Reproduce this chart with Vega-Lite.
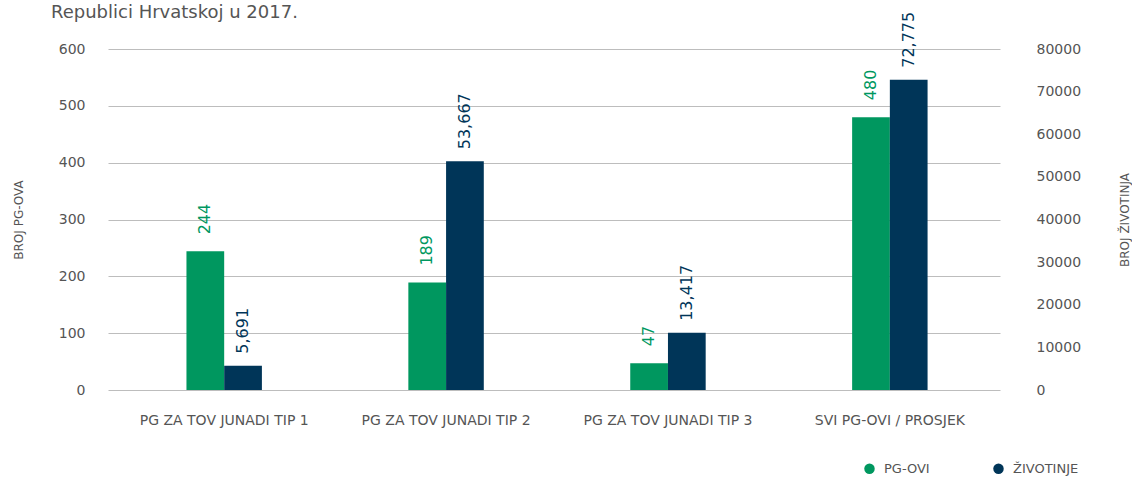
{
  "$schema": "https://vega.github.io/schema/vega-lite/v6.json",
  "width": 892,
  "height": 341,
  "autosize": "none",
  "padding": {"left": 108, "top": 49, "right": 132, "bottom": 87},
  "background": "white",
  "config": {
    "font": "DejaVu Sans",
    "view": {"stroke": null},
    "axis": {"labelColor": "#555555", "titleColor": "#555555", "labelFont": "DejaVu Sans", "titleFont": "DejaVu Sans"},
    "legend": {"labelFont": "DejaVu Sans"}
  },
  "title": {
    "text": "Republici Hrvatskoj u 2017.",
    "anchor": "start",
    "frame": "group",
    "font": "DejaVu Sans",
    "fontSize": 18,
    "fontWeight": "normal",
    "color": "#555555",
    "baseline": "alphabetic",
    "offset": 0,
    "dy": 24,
    "dx": -57
  },
  "data": {
    "values": [
      {"category": "PG ZA TOV JUNADI TIP 1", "series": "PG-OVI", "value": 244},
      {"category": "PG ZA TOV JUNADI TIP 1", "series": "ŽIVOTINJE", "value": 5691},
      {"category": "PG ZA TOV JUNADI TIP 2", "series": "PG-OVI", "value": 189},
      {"category": "PG ZA TOV JUNADI TIP 2", "series": "ŽIVOTINJE", "value": 53667},
      {"category": "PG ZA TOV JUNADI TIP 3", "series": "PG-OVI", "value": 47},
      {"category": "PG ZA TOV JUNADI TIP 3", "series": "ŽIVOTINJE", "value": 13417},
      {"category": "SVI PG-OVI / PROSJEK", "series": "PG-OVI", "value": 480},
      {"category": "SVI PG-OVI / PROSJEK", "series": "ŽIVOTINJE", "value": 72775}
    ]
  },
  "encoding": {
    "x": {
      "field": "category",
      "type": "nominal",
      "sort": null,
      "scale": {"paddingInner": 0.66, "paddingOuter": 0.34, "align": 0.52},
      "axis": {"title": null, "labelAngle": 0, "domain": false, "ticks": false, "labelPadding": 23, "labelFontSize": 14, "labelColor": "#555555"}
    },
    "xOffset": {"field": "series", "type": "nominal", "sort": ["PG-OVI", "ŽIVOTINJE"]},
    "color": {
      "field": "series",
      "type": "nominal",
      "scale": {"domain": ["PG-OVI", "ŽIVOTINJE"], "range": ["#00975f", "#003558"]},
      "legend": {
        "title": null,
        "orient": "none",
        "legendX": 755,
        "legendY": 413,
        "direction": "horizontal",
        "symbolType": "circle",
        "symbolSize": 110,
        "symbolStrokeWidth": 0,
        "labelFontSize": 13,
        "labelColor": "#555555",
        "labelOffset": 8,
        "columnPadding": 62
      }
    }
  },
  "layer": [
    {
      "transform": [{"filter": "datum.series === 'PG-OVI'"}],
      "encoding": {
        "y": {
          "field": "value",
          "type": "quantitative",
          "scale": {"domain": [0, 600], "nice": false},
          "axis": {
            "title": "BROJ PG-OVA",
            "titleFontSize": 12,
            "titleFontWeight": "normal",
            "titlePadding": 33,
            "values": [0, 100, 200, 300, 400, 500, 600],
            "grid": true,
            "gridColor": "#bdbdbd",
            "gridWidth": 1,
            "domain": false,
            "ticks": false,
            "labelPadding": 23,
            "labelFontSize": 14
          }
        }
      },
      "layer": [
        {"mark": {"type": "bar"}},
        {
          "mark": {"type": "text", "angle": 270, "align": "left", "baseline": "middle", "dx": 17, "fontSize": 16},
          "encoding": {"text": {"field": "value", "type": "quantitative", "format": ","}}
        }
      ]
    },
    {
      "transform": [{"filter": "datum.series === 'ŽIVOTINJE'"}],
      "encoding": {
        "y": {
          "field": "value",
          "type": "quantitative",
          "scale": {"domain": [0, 80000], "nice": false},
          "axis": {
            "orient": "right",
            "title": "BROJ ŽIVOTINJA",
            "titleFontSize": 12,
            "titleFontWeight": "normal",
            "titleAngle": 270,
            "titlePadding": 51,
            "values": [0, 10000, 20000, 30000, 40000, 50000, 60000, 70000, 80000],
            "format": "d",
            "grid": false,
            "domain": false,
            "ticks": false,
            "labelPadding": 36,
            "labelFontSize": 14
          }
        }
      },
      "layer": [
        {"mark": {"type": "bar"}},
        {
          "mark": {"type": "text", "angle": 270, "align": "left", "baseline": "middle", "dx": 12, "fontSize": 16},
          "encoding": {"text": {"field": "value", "type": "quantitative", "format": ","}}
        }
      ]
    }
  ],
  "resolve": {"scale": {"y": "independent"}}
}
